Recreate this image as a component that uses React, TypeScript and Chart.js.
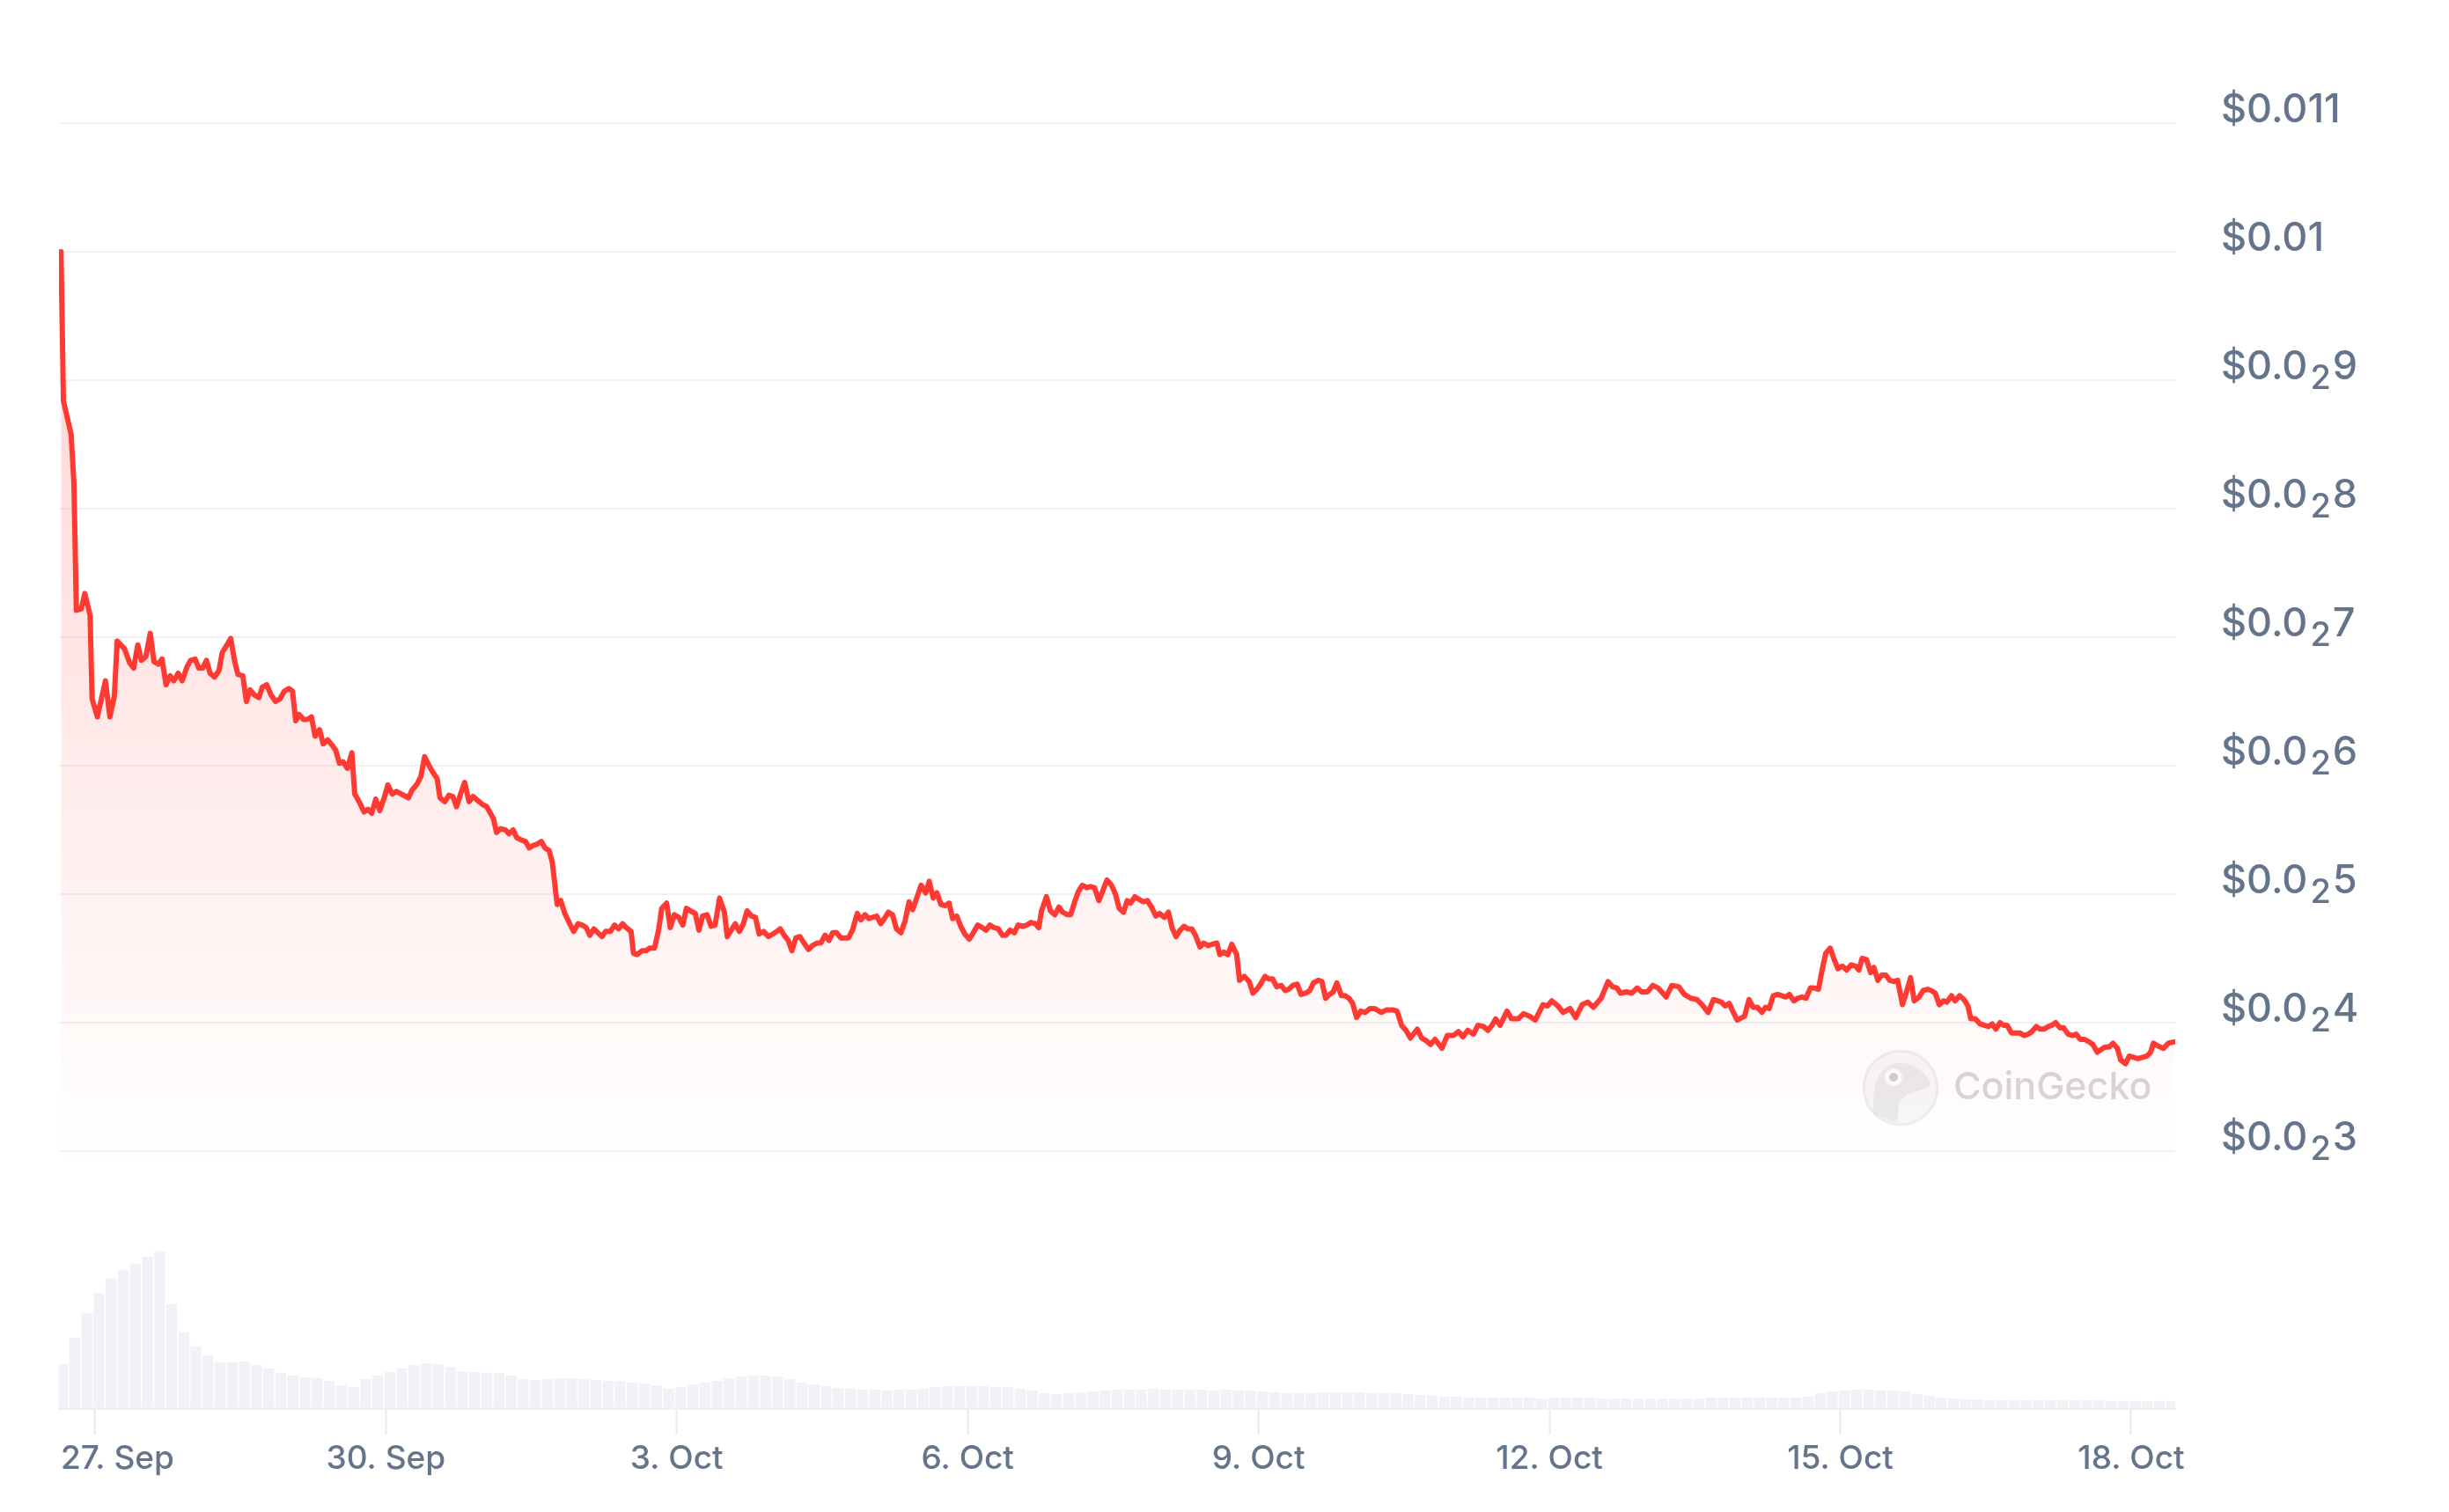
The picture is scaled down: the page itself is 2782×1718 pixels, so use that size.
import React, { useEffect, useRef } from 'react';
import { Chart, registerables } from 'chart.js';

Chart.register(...registerables);

// Time in hours relative to 27 Sep 00:00 (local time of the screenshot)
const hours = [
  -8.4, -7.8, -5.9, -5.2, -4.6, -3.4, -2.5, -1.2, -0.7, 0.6, 2.6, 3.7, 4.8, 5.5, 7.3, 8.6, 9.6, 10.6, 11.5, 12.6,
  13.7, 14.6, 15.7, 16.6, 17.6, 18.6, 19.5, 20.6, 21.6, 22.8, 23.7, 24.8, 25.7, 26.7, 27.6, 28.5, 29.6, 30.7, 31.5, 32.5,
  33.6, 34.6, 35.4, 36.6, 37.5, 38.4, 39.5, 40.6, 41.4, 42.5, 43.6, 44.7, 45.8, 46.9, 48.0, 48.9, 49.7, 50.5, 51.6, 52.6,
  53.6, 54.5, 55.6, 56.5, 57.6, 58.7, 59.6, 60.5, 61.4, 62.5, 63.6, 64.3, 65.4, 66.6, 67.6, 68.5, 69.5, 70.5, 71.6, 72.5,
  73.6, 74.6, 76.4, 77.6, 78.5, 79.8, 80.7, 81.6, 82.7, 83.6, 84.7, 85.4, 86.6, 87.6, 88.6, 89.5, 90.5, 91.5, 92.6, 93.6,
  94.7, 95.9, 97.0, 98.6, 99.4, 100.4, 101.6, 102.5, 103.5, 104.4, 105.6, 106.6, 107.5, 108.5, 109.5, 110.5, 111.4, 112.4, 113.2, 114.4,
  115.3, 116.3, 117.5, 118.5, 119.6, 120.6, 121.6, 122.5, 123.5, 124.5, 125.5, 126.4, 127.6, 128.6, 129.6, 130.6, 131.5, 132.7, 133.3, 134.2,
  135.4, 136.4, 137.3, 138.5, 139.5, 140.3, 141.5, 142.4, 143.4, 144.5, 145.5, 146.4, 147.4, 148.6, 149.5, 150.4, 151.5, 152.5, 153.5, 154.6,
  155.8, 156.5, 157.5, 158.5, 159.5, 160.5, 161.4, 162.5, 163.5, 164.4, 165.5, 166.7, 167.8, 168.8, 169.6, 170.6, 171.6, 172.5, 173.5, 174.5,
  175.5, 176.6, 177.6, 178.7, 179.7, 180.7, 181.7, 182.6, 183.6, 184.6, 185.6, 186.5, 187.5, 188.7, 189.6, 190.6, 191.6, 192.5, 193.5, 194.5,
  195.4, 196.4, 197.4, 198.4, 199.5, 200.5, 201.5, 202.4, 203.4, 204.5, 205.6, 206.5, 207.5, 208.4, 209.4, 210.4, 211.4, 212.3, 213.3, 214.3,
  215.3, 216.4, 217.4, 218.5, 219.6, 220.6, 221.5, 222.5, 223.6, 224.6, 225.5, 226.5, 227.6, 228.5, 229.7, 230.7, 231.7, 232.8, 233.6, 234.3,
  235.5, 236.5, 237.6, 238.6, 239.5, 240.7, 241.5, 242.5, 243.4, 244.4, 245.5, 246.4, 247.4, 248.5, 249.5, 250.5, 251.6, 252.6, 253.5, 254.6,
  255.5, 256.3, 257.4, 258.4, 259.5, 260.5, 261.5, 262.6, 263.5, 264.7, 265.7, 266.6, 267.6, 268.6, 269.6, 270.5, 271.5, 272.4, 273.5, 274.4,
  275.5, 276.6, 277.7, 278.4, 279.4, 280.4, 281.4, 282.6, 283.3, 284.5, 285.7, 286.6, 287.6, 288.5, 289.6, 290.6, 291.5, 292.5, 293.6, 294.6,
  295.5, 296.5, 297.6, 298.5, 299.7, 300.7, 301.6, 302.8, 303.7, 304.6, 305.6, 306.5, 307.4, 308.5, 309.4, 310.4, 311.3, 312.3, 313.3, 314.4,
  315.6, 316.7, 318.4, 319.7, 321.2, 322.3, 323.4, 324.5, 325.6, 327.3, 328.4, 329.5, 330.6, 331.7, 333.4, 334.7, 336.2, 337.5, 338.6, 339.8,
  341.2, 342.3, 343.7, 344.8, 345.8, 346.7, 347.8, 349.5, 350.6, 352.3, 353.6, 355.1, 356.5, 358.4, 359.5, 360.6, 362.1, 363.4, 365.1, 366.5,
  368.1, 369.5, 370.9, 372.8, 374.5, 375.6, 376.7, 377.6, 379.0, 380.4, 381.7, 382.8, 384.3, 385.6, 386.9, 388.9, 390.3, 392.0, 393.4, 395.0,
  396.5, 397.8, 399.3, 400.6, 402.6, 403.5, 404.5, 405.4, 406.5, 408.3, 409.4, 410.4, 411.5, 412.6, 413.5, 414.4, 415.4, 416.5, 417.5, 418.5,
  419.4, 420.5, 421.4, 422.5, 423.5, 424.6, 425.5, 426.6, 427.5, 428.4, 429.5, 430.4, 431.4, 432.5, 433.6, 434.7, 435.8, 436.6, 437.4, 438.5,
  439.5, 440.3, 441.3, 442.2, 443.3, 444.2, 445.3, 446.2, 447.4, 448.4, 449.4, 450.3, 451.5, 452.5, 453.6, 454.5, 455.5, 456.5, 457.5, 458.4,
  459.5, 460.4, 461.5, 462.6, 463.6, 464.3, 465.4, 466.6, 467.6, 468.7, 469.6, 470.5, 471.5, 472.4, 473.3, 474.4, 475.5, 476.4, 477.5, 478.5,
  479.4, 480.5, 481.4, 482.4, 483.5, 484.4, 485.3, 486.4, 487.3, 488.4, 489.5, 490.4, 491.4, 492.5, 493.6, 494.5, 495.6, 496.5, 497.5, 498.5,
  499.5, 500.6, 501.4, 502.6, 503.5, 504.6, 505.7, 506.8, 507.9, 508.8, 509.5, 510.5, 512.0, 513.2, 514.6,
];

// Price in USD
const prices = [
  0.01, 0.00884, 0.00858, 0.0082, 0.00721, 0.00722, 0.00734, 0.00717, 0.00652, 0.00638, 0.00666, 0.00638, 0.00654, 0.00697, 0.00691, 0.0068, 0.00676, 0.00694, 0.00682, 0.00685,
  0.00703, 0.00681, 0.00679, 0.00683, 0.00663, 0.0067, 0.00666, 0.00672, 0.00666, 0.00677, 0.00682, 0.00683, 0.00676, 0.00676, 0.00682, 0.00672, 0.00669, 0.00674, 0.00688, 0.00693,
  0.00699, 0.00681, 0.00671, 0.0067, 0.0065, 0.00659, 0.00655, 0.00653, 0.00661, 0.00663, 0.00655, 0.0065, 0.00652, 0.00658, 0.0066, 0.00658, 0.00635, 0.0064, 0.00636, 0.00636,
  0.00638, 0.00623, 0.00628, 0.00617, 0.0062, 0.00616, 0.00612, 0.00602, 0.00603, 0.00598, 0.0061, 0.00578, 0.00572, 0.00564, 0.00566, 0.00563, 0.00574, 0.00565, 0.00575, 0.00585,
  0.00578, 0.0058, 0.00577, 0.00575, 0.00581, 0.00586, 0.00592, 0.00607, 0.006, 0.00595, 0.0059, 0.00575, 0.00572, 0.00577, 0.00576, 0.00568, 0.00578, 0.00587, 0.00572, 0.00576,
  0.00573, 0.0057, 0.00568, 0.00559, 0.00548, 0.00551, 0.0055, 0.00547, 0.0055, 0.00544, 0.00542, 0.00541, 0.00536, 0.00538, 0.00539, 0.00541, 0.00536, 0.00534, 0.00525, 0.00492,
  0.00495, 0.00485, 0.00477, 0.00471, 0.00477, 0.00476, 0.00474, 0.00468, 0.00473, 0.0047, 0.00467, 0.00471, 0.00471, 0.00476, 0.00473, 0.00477, 0.00474, 0.00471, 0.00454, 0.00453,
  0.00456, 0.00456, 0.00458, 0.00458, 0.00472, 0.00489, 0.00493, 0.00474, 0.00484, 0.00482, 0.00476, 0.00489, 0.00487, 0.00485, 0.00472, 0.00483, 0.00484, 0.00475, 0.00476, 0.00497,
  0.00486, 0.00467, 0.00472, 0.00477, 0.00471, 0.00477, 0.00487, 0.00483, 0.00482, 0.00469, 0.00471, 0.00467, 0.00469, 0.00471, 0.00473, 0.00468, 0.00464, 0.00456, 0.00466, 0.00467,
  0.00462, 0.00457, 0.0046, 0.00462, 0.00462, 0.00468, 0.00464, 0.0047, 0.0047, 0.00466, 0.00466, 0.00466, 0.00472, 0.00485, 0.0048, 0.00484, 0.00481, 0.00482, 0.00483, 0.00477,
  0.00481, 0.00486, 0.00484, 0.00473, 0.0047, 0.00479, 0.00494, 0.00488, 0.00497, 0.00507, 0.00501, 0.0051, 0.00497, 0.00501, 0.00492, 0.00491, 0.00493, 0.00481, 0.00483, 0.00475,
  0.00469, 0.00465, 0.0047, 0.00476, 0.00474, 0.00472, 0.00476, 0.00474, 0.00473, 0.00468, 0.00468, 0.00472, 0.0047, 0.00476, 0.00475, 0.00476, 0.00478, 0.00477, 0.00474, 0.00487,
  0.00498, 0.00487, 0.00484, 0.0049, 0.00486, 0.00484, 0.00484, 0.00494, 0.00502, 0.00507, 0.00505, 0.00506, 0.00505, 0.00495, 0.00503, 0.00511, 0.00507, 0.005, 0.00489, 0.00486,
  0.00495, 0.00493, 0.00498, 0.00496, 0.00494, 0.00495, 0.0049, 0.00483, 0.00485, 0.00482, 0.00486, 0.00474, 0.00467, 0.00472, 0.00475, 0.00473, 0.00473, 0.00468, 0.00459, 0.00462,
  0.0046, 0.00461, 0.00462, 0.00453, 0.00455, 0.00453, 0.00461, 0.00453, 0.00433, 0.00436, 0.00432, 0.00423, 0.00426, 0.0043, 0.00436, 0.00434, 0.00434, 0.00428, 0.00429, 0.00425,
  0.00426, 0.00429, 0.0043, 0.00422, 0.00423, 0.00425, 0.00431, 0.00433, 0.00432, 0.00419, 0.00422, 0.00424, 0.00431, 0.00421, 0.00421, 0.00419, 0.00415, 0.00404, 0.00409, 0.00408,
  0.00411, 0.00411, 0.00408, 0.0041, 0.0041, 0.00409, 0.00398, 0.00394, 0.00388, 0.00395, 0.00388, 0.00386, 0.00383, 0.00387, 0.0038, 0.0039, 0.0039, 0.00393, 0.00389, 0.00394,
  0.00391, 0.00398, 0.00397, 0.00394, 0.00398, 0.00403, 0.00398, 0.00409, 0.00403, 0.00403, 0.00407, 0.00405, 0.00402, 0.00414, 0.00413, 0.00417, 0.00413, 0.00408, 0.00411, 0.00404,
  0.00414, 0.00416, 0.00412, 0.00419, 0.00432, 0.00428, 0.00427, 0.00423, 0.00424, 0.00423, 0.00427, 0.00424, 0.00424, 0.00429, 0.00427, 0.0042, 0.00429, 0.00428, 0.00422, 0.00419,
  0.00418, 0.00414, 0.00408, 0.00418, 0.00416, 0.00413, 0.00415, 0.00409, 0.00402, 0.00405, 0.00418, 0.00412, 0.00412, 0.00408, 0.00412, 0.00411, 0.00421, 0.00422, 0.00421, 0.0042,
  0.00422, 0.00417, 0.00419, 0.0042, 0.00419, 0.00427, 0.00427, 0.00426, 0.00441, 0.00454, 0.00458, 0.0045, 0.00442, 0.00444, 0.00441, 0.00445, 0.00444, 0.00441, 0.0045, 0.00449,
  0.00439, 0.00443, 0.00433, 0.00437, 0.00437, 0.00433, 0.00432, 0.00433, 0.00414, 0.00424, 0.00435, 0.00417, 0.0042, 0.00425, 0.00426, 0.00425, 0.00423, 0.00414, 0.00417, 0.00416,
  0.00421, 0.00417, 0.00421, 0.00418, 0.00413, 0.00403, 0.00403, 0.00399, 0.00398, 0.00397, 0.00399, 0.00395, 0.004, 0.00398, 0.00398, 0.00392, 0.00392, 0.00392, 0.0039, 0.00391,
  0.00393, 0.00397, 0.00395, 0.00395, 0.00397, 0.00398, 0.004, 0.00396, 0.00396, 0.00391, 0.0039, 0.00391, 0.00387, 0.00387, 0.00385, 0.00383, 0.00377, 0.00379, 0.00381, 0.00381,
  0.00384, 0.0038, 0.00371, 0.00368, 0.00374, 0.00373, 0.00372, 0.00373, 0.00374, 0.00377, 0.00384, 0.00382, 0.0038, 0.00384, 0.00385,
];

// Trading volume, every 3 hours (relative units)
const volumeHours = [
  -8, -5, -2, 1, 4, 7, 10, 13, 16, 19, 22, 25, 28, 31, 34, 37, 40, 43, 46, 49,
  52, 55, 58, 61, 64, 67, 70, 73, 76, 79, 82, 85, 88, 91, 94, 97, 100, 103, 106, 109,
  112, 115, 118, 121, 124, 127, 130, 133, 136, 139, 142, 145, 148, 151, 154, 157, 160, 163, 166, 169,
  172, 175, 178, 181, 184, 187, 190, 193, 196, 199, 202, 205, 208, 211, 214, 217, 220, 223, 226, 229,
  232, 235, 238, 241, 244, 247, 250, 253, 256, 259, 262, 265, 268, 271, 274, 277, 280, 283, 286, 289,
  292, 295, 298, 301, 304, 307, 310, 313, 316, 319, 322, 325, 328, 331, 334, 337, 340, 343, 346, 349,
  352, 355, 358, 361, 364, 367, 370, 373, 376, 379, 382, 385, 388, 391, 394, 397, 400, 403, 406, 409,
  412, 415, 418, 421, 424, 427, 430, 433, 436, 439, 442, 445, 448, 451, 454, 457, 460, 463, 466, 469,
  472, 475, 478, 481, 484, 487, 490, 493, 496, 499, 502, 505, 508, 511, 514,
];
const volumes = [
  50, 80, 108, 130, 147, 157, 164, 172, 178, 118, 86, 70, 60, 52, 52, 53, 49, 45, 40, 37,
  35, 34, 31, 26, 24, 33, 37, 41, 45, 49, 51, 50, 47, 42, 41, 40, 40, 37, 33, 32,
  33, 34, 34, 33, 32, 31, 31, 29, 28, 26, 22, 24, 27, 29, 31, 34, 36, 37, 37, 36,
  33, 29, 27, 25, 23, 22, 21, 21, 20, 21, 21, 22, 24, 25, 25, 25, 25, 24, 24, 22,
  20, 17, 16, 17, 18, 19, 20, 21, 21, 21, 22, 21, 21, 21, 21, 20, 21, 20, 20, 19,
  18, 17, 17, 17, 18, 18, 18, 18, 17, 17, 17, 16, 15, 14, 13, 13, 12, 12, 12, 12,
  12, 12, 11, 12, 12, 12, 12, 11, 11, 11, 11, 11, 11, 11, 11, 11, 12, 12, 12, 12,
  12, 12, 12, 12, 13, 17, 19, 20, 21, 21, 20, 20, 19, 16, 14, 12, 11, 10, 10, 9,
  9, 9, 9, 9, 9, 9, 9, 9, 9, 8, 8, 8, 8, 8, 8,
];

const xTickHours = [0, 72, 144, 216, 288, 360, 432, 504];
const xTickLabels = ['27. Sep', '30. Sep', '3. Oct', '6. Oct', '9. Oct', '12. Oct', '15. Oct', '18. Oct'];

const yTickValues = [0.003, 0.004, 0.005, 0.006, 0.007, 0.008, 0.009, 0.01, 0.011];
const yTickLabels = ['$0.0₂3', '$0.0₂4', '$0.0₂5', '$0.0₂6', '$0.0₂7', '$0.0₂8', '$0.0₂9', '$0.01', '$0.011'];

const X_MIN = -8.9;
const X_MAX = 514.9;
const Y_MIN = 0.001;
const Y_MAX = 0.0115;
const FILL_FLOOR = 0.0029;

const LABEL_COLOR = '#64748b';
const FONT_FAMILY = 'Inter, "Noto Sans", sans-serif';
const LINE_COLOR = '#ff3a33';
const X_FONT_SIZE = 37;
const X_FONT_WEIGHT = '500';

function drawSubscriptLabel(ctx: CanvasRenderingContext2D, text: string, x: number, y: number) {
  const mainFont = `500 45px ${FONT_FAMILY}`;
  const subFont = `500 38px ${FONT_FAMILY}`;
  let cx = x;
  let buf = '';
  const flush = () => {
    if (!buf) return;
    ctx.font = mainFont;
    ctx.fillText(buf, cx, y);
    cx += ctx.measureText(buf).width;
    buf = '';
  };
  for (const ch of text) {
    const code = ch.charCodeAt(0);
    if (code >= 0x2080 && code <= 0x2089) {
      flush();
      const d = String(code - 0x2080);
      ctx.font = subFont;
      ctx.fillText(d, cx + 3, y + 11);
      cx += ctx.measureText(d).width + 5;
    } else {
      buf += ch;
    }
  }
  flush();
}

const yLabelPlugin = {
  id: 'yLabelPlugin',
  afterDraw(chart: any) {
    const { ctx, chartArea } = chart;
    const ys = chart.scales.y;
    ctx.save();
    ctx.fillStyle = LABEL_COLOR;
    ctx.textAlign = 'left';
    ctx.textBaseline = 'alphabetic';
    yTickValues.forEach((v, i) => {
      const py = ys.getPixelForValue(v);
      drawSubscriptLabel(ctx, yTickLabels[i], chartArea.right + 52, py - 1);
    });
    ctx.restore();
  },
};

// Highcharts-like "justify": keep the first x label inside the plot
const xJustifyPlugin = {
  id: 'xJustifyPlugin',
  beforeDraw(chart: any) {
    const s = chart.scales.x;
    const items = s.getLabelItems();
    if (!items || !items.length) return;
    const first = items[0];
    const ctx = chart.ctx;
    ctx.save();
    ctx.font = `${X_FONT_WEIGHT} ${X_FONT_SIZE}px ${FONT_FAMILY}`;
    const w = ctx.measureText(String(first.label)).width;
    ctx.restore();
    const left = first.options.translation[0] - w / 2;
    if (left < chart.chartArea.left) {
      first.options.translation[0] = chart.chartArea.left + 2;
      first.options.textAlign = 'left';
    }
  },
};

const watermarkPlugin = {
  id: 'watermarkPlugin',
  beforeDatasetsDraw(chart: any) {
    const { ctx, chartArea } = chart;
    const cx = chartArea.right - 312;
    const cy = chartArea.top + 1169;
    ctx.save();
    ctx.beginPath();
    ctx.arc(cx, cy, 42, 0, Math.PI * 2);
    ctx.fillStyle = 'rgba(120,120,120,0.06)';
    ctx.fill();
    ctx.lineWidth = 3;
    ctx.strokeStyle = 'rgba(120,120,120,0.10)';
    ctx.stroke();
    // gecko head
    ctx.beginPath();
    ctx.moveTo(cx - 30, cy + 30);
    ctx.bezierCurveTo(cx - 34, cy - 10, cx - 20, cy - 30, cx + 2, cy - 28);
    ctx.bezierCurveTo(cx + 22, cy - 26, cx + 34, cy - 10, cx + 34, cy - 2);
    ctx.bezierCurveTo(cx + 22, cy + 6, cx + 4, cy + 2, cx - 2, cy + 20);
    ctx.lineTo(cx - 4, cy + 40);
    ctx.closePath();
    ctx.fillStyle = 'rgba(120,120,120,0.10)';
    ctx.fill();
    ctx.beginPath();
    ctx.arc(cx - 8, cy - 12, 10, 0, Math.PI * 2);
    ctx.fillStyle = 'rgba(255,255,255,0.9)';
    ctx.fill();
    ctx.beginPath();
    ctx.arc(cx - 8, cy - 12, 5, 0, Math.PI * 2);
    ctx.fillStyle = 'rgba(120,120,120,0.35)';
    ctx.fill();
    ctx.font = `500 43px ${FONT_FAMILY}`;
    ctx.fillStyle = 'rgba(120,120,120,0.30)';
    ctx.textAlign = 'left';
    ctx.textBaseline = 'alphabetic';
    ctx.fillText('CoinGecko', cx + 60, cy + 13);
    ctx.restore();
  },
};

export default function App() {
  const canvasRef = useRef<HTMLCanvasElement | null>(null);

  useEffect(() => {
    const canvas = canvasRef.current;
    if (!canvas) return;

    const priceData = hours.map((h, i) => ({ x: h, y: prices[i] }));
    const volumeData = volumeHours.map((h, i) => ({ x: h, y: volumes[i] }));

    const chart = new Chart(canvas, {
      type: 'line',
      data: {
        datasets: [
          {
            type: 'line',
            label: 'Price',
            data: priceData,
            xAxisID: 'x',
            yAxisID: 'y',
            borderColor: LINE_COLOR,
            borderWidth: 6,
            pointRadius: 0,
            tension: 0,
            borderJoinStyle: 'round',
            borderCapStyle: 'round',
            fill: { target: { value: FILL_FLOOR } },
            backgroundColor: (context: any) => {
              const c = context.chart;
              const area = c.chartArea;
              if (!area) return 'rgba(255,58,51,0.1)';
              const yb = c.scales.y.getPixelForValue(FILL_FLOOR);
              const g = c.ctx.createLinearGradient(0, area.top, 0, yb);
              g.addColorStop(0, 'rgba(255,58,51,0.27)');
              g.addColorStop(1, 'rgba(255,58,51,0)');
              return g;
            },
            order: 1,
          } as any,
          {
            type: 'bar',
            label: 'Volume',
            data: volumeData,
            xAxisID: 'x',
            yAxisID: 'yVol',
            backgroundColor: '#f0f2f7',
            borderWidth: 0,
            barPercentage: 0.9,
            categoryPercentage: 1,
            order: 2,
          } as any,
        ],
      },
      options: {
        responsive: false,
        animation: false,
        devicePixelRatio: 1,
        events: [],
        layout: { padding: { left: 67, top: 67, right: 0, bottom: 0 } },
        plugins: {
          legend: { display: false },
          tooltip: { enabled: false },
        },
        scales: {
          x: {
            type: 'linear',
            min: X_MIN,
            max: X_MAX,
            offset: false,
            afterBuildTicks: (s: any) => {
              s.ticks = xTickHours.map((v) => ({ value: v }));
            },
            afterFit: (s: any) => {
              s.height = 118;
            },
            ticks: {
              autoSkip: false,
              maxRotation: 0,
              padding: 9,
              color: LABEL_COLOR,
              font: { family: FONT_FAMILY, size: X_FONT_SIZE, weight: X_FONT_WEIGHT, lineHeight: 1 },
              callback: (_v: any, i: number) => xTickLabels[i],
            },
            grid: {
              offset: false,
              drawOnChartArea: false,
              drawTicks: true,
              tickLength: 30,
              tickColor: '#e9ebf0',
              tickWidth: 2,
            },
            border: { display: true, color: '#eef0f4', width: 3 },
          },
          y: {
            type: 'linear',
            position: 'right',
            min: Y_MIN,
            max: Y_MAX,
            afterBuildTicks: (s: any) => {
              s.ticks = yTickValues.map((v) => ({ value: v }));
            },
            afterFit: (s: any) => {
              s.width = 311;
            },
            ticks: { display: false },
            grid: { color: '#eff0f5', lineWidth: 2, drawTicks: false },
            border: { display: false },
          },
          yVol: {
            type: 'linear',
            display: false,
            min: 0,
            max: Math.max(...volumes) * 8.6,
          },
        },
      } as any,
      plugins: [xJustifyPlugin, watermarkPlugin, yLabelPlugin],
    });

    return () => {
      chart.destroy();
    };
  }, []);

  return (
    <div style={{ position: 'fixed', left: 0, top: 0, width: 2782, height: 1718, background: '#ffffff' }}>
      <canvas ref={canvasRef} width={2782} height={1718} style={{ display: 'block', width: '2782px', height: '1718px' }} />
    </div>
  );
}
